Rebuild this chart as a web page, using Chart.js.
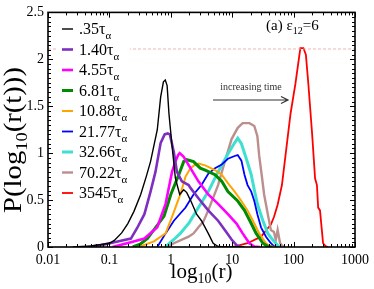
<!DOCTYPE html>
<html>
<head>
<meta charset="utf-8">
<script src="https://cdn.jsdelivr.net/npm/chart.js@4/dist/chart.umd.min.js"></script>
<style>
html, body { margin: 0; padding: 0; background: #fff; }
canvas { display: block; }
</style>
</head>
<body>
<canvas id="chart" width="374" height="289"></canvas>
<script>
// series names (time in units of tau_alpha)
var seriesLabels = ['.35', '1.40', '4.55', '6.81', '10.88', '21.77', '32.66', '70.22', '3545'];
var seriesColors = ['#000000', '#7f2fc0', '#ff00ff', '#008b00', '#ffa500', '#0000ff', '#40e0d0', '#bc8f8f', '#ff0000'];
var seriesWidths = [1.4, 2.6, 2.6, 3, 2, 1.8, 3, 2.4, 1.8];

// log10(r) positions and P values
var lx035 = [-1.6, -1.3, -1.0, -0.92, -0.8, -0.7, -0.6, -0.49, -0.4, -0.33, -0.22, -0.165, -0.12, -0.09, -0.06, -0.03, 0.02, 0.075, 0.145, 0.21, 0.26, 0.32, 0.42, 0.5, 0.61, 0.69, 0.77, 0.9, 1.2];
var p035 = [0, 0.01, 0.04, 0.07, 0.15, 0.25, 0.38, 0.56, 0.75, 0.91, 1.25, 1.6, 1.76, 1.78, 1.72, 1.42, 1.08, 0.73, 0.56, 0.61, 0.58, 0.5, 0.35, 0.28, 0.145, 0.04, 0.005, 0, 0];

var lx140 = [-1.35, -1.13, -0.92, -0.65, -0.55, -0.43, -0.33, -0.25, -0.165, -0.1, -0.05, -0.015, 0.05, 0.1, 0.18, 0.29, 0.32, 0.45, 0.61, 0.77, 0.88, 0.99, 1.07, 1.15];
var p140 = [0, 0.02, 0.05, 0.09, 0.2, 0.35, 0.59, 0.8, 1.11, 1.2, 1.21, 1.2, 1.01, 0.8, 0.7, 0.66, 0.63, 0.52, 0.39, 0.28, 0.18, 0.08, 0.02, 0];

var lx455 = [-0.95, -0.65, -0.43, -0.22, -0.085, 0.02, 0.075, 0.12, 0.145, 0.21, 0.32, 0.45, 0.61, 0.77, 0.93, 1.07, 1.17, 1.28, 1.36, 1.45];
var p455 = [0, 0.05, 0.09, 0.21, 0.46, 0.8, 0.91, 0.98, 1.0, 0.96, 0.84, 0.7, 0.56, 0.46, 0.35, 0.25, 0.145, 0.04, 0.005, 0];

var lx681 = [-0.62, -0.5, -0.38, -0.11, 0, 0.13, 0.21, 0.26, 0.37, 0.48, 0.56, 0.72, 0.83, 0.93, 1.09, 1.2, 1.31, 1.39, 1.5, 1.58, 1.65];
var p681 = [0, 0.03, 0.09, 0.33, 0.56, 0.77, 0.91, 0.93, 0.91, 0.84, 0.82, 0.77, 0.7, 0.59, 0.49, 0.39, 0.25, 0.145, 0.04, 0.005, 0];

var lx1088 = [-0.52, -0.275, -0.085, 0.02, 0.155, 0.24, 0.32, 0.38, 0.45, 0.56, 0.72, 0.83, 0.93, 1.04, 1.15, 1.25, 1.36, 1.44, 1.55, 1.63, 1.7];
var p1088 = [0, 0.06, 0.145, 0.32, 0.56, 0.75, 0.84, 0.87, 0.89, 0.87, 0.82, 0.77, 0.68, 0.59, 0.49, 0.39, 0.25, 0.145, 0.04, 0.005, 0];

var lx2177 = [-0.22, -0.085, 0.05, 0.24, 0.37, 0.5, 0.61, 0.72, 0.83, 0.93, 1.04, 1.09, 1.15, 1.2, 1.25, 1.31, 1.36, 1.41, 1.47, 1.55, 1.63, 1.68, 1.72];
var p2177 = [0, 0.145, 0.28, 0.42, 0.56, 0.66, 0.78, 0.84, 0.88, 0.94, 0.97, 0.98, 0.92, 0.77, 0.66, 0.59, 0.49, 0.35, 0.21, 0.11, 0.04, 0.01, 0];

var lx3266 = [-0.09, 0.05, 0.155, 0.3, 0.45, 0.61, 0.77, 0.93, 1.04, 1.09, 1.15, 1.23, 1.31, 1.36, 1.41, 1.5, 1.58, 1.66, 1.71, 1.75, 1.78];
var p3266 = [0, 0.08, 0.145, 0.26, 0.42, 0.59, 0.8, 0.99, 1.11, 1.16, 1.1, 0.94, 0.77, 0.61, 0.46, 0.28, 0.145, 0.076, 0.04, 0.01, 0];

var lx7022 = [-0.06, 0.05, 0.29, 0.37, 0.45, 0.53, 0.61, 0.77, 0.88, 0.99, 1.09, 1.17, 1.28, 1.36, 1.41, 1.44, 1.48, 1.52, 1.58, 1.63, 1.68, 1.71, 1.74, 1.78, 1.82, 1.86];
var p7022 = [0, 0.04, 0.11, 0.145, 0.21, 0.27, 0.39, 0.66, 0.91, 1.15, 1.27, 1.32, 1.32, 1.29, 1.18, 0.97, 0.77, 0.56, 0.35, 0.18, 0.16, 0.076, 0.18, 0.04, 0.01, 0];

var lx3545 = [1.0, 1.25, 1.47, 1.58, 1.63, 1.68, 1.74, 1.81, 1.9, 1.95, 2.03, 2.11, 2.16, 2.2, 2.24, 2.3, 2.35, 2.38, 2.4, 2.43, 2.46, 2.48, 2.52, 2.56];
var p3545 = [0, 0.04, 0.11, 0.2, 0.24, 0.32, 0.45, 0.66, 1.15, 1.42, 1.74, 2.12, 2.12, 2.05, 1.74, 1.22, 0.73, 0.66, 0.42, 0.39, 0.18, 0.04, 0.01, 0];

var seriesX = [lx035, lx140, lx455, lx681, lx1088, lx2177, lx3266, lx7022, lx3545];
var seriesY = [p035, p140, p455, p681, p1088, p2177, p3266, p7022, p3545];

// dashed reference level at the peak of the last curve
var refLevel = 2.11;

var xTickValues = [0.01, 0.1, 1, 10, 100, 1000];
var xTickLabels = ['0.01', '0.1', '1', '10', '100', '1000'];
var yTickValues = [0, 0.5, 1, 1.5, 2, 2.5];
var yTickLabels = ['0', '0.5', '1', '1.5', '2', '2.5'];

var serif = "'Liberation Serif', 'Times New Roman', serif";

function toPoints(lx, ys) {
    var pts = [];
    for (var i = 0; i < lx.length; i++) {
        pts.push({ x: Math.pow(10, lx[i]), y: ys[i] });
    }
    return pts;
}

var datasets = [];
datasets.push({
    label: 'ref',
    data: [{ x: 0.01, y: refLevel }, { x: 1000, y: refLevel }],
    borderColor: '#e9a3a3',
    borderWidth: 0.8,
    borderDash: [3, 2],
    showLine: true,
    pointRadius: 0
});
for (var s = 0; s < seriesLabels.length; s++) {
    datasets.push({
        label: seriesLabels[s],
        data: toPoints(seriesX[s], seriesY[s]),
        borderColor: seriesColors[s],
        borderWidth: seriesWidths[s],
        showLine: true,
        pointRadius: 0,
        tension: 0
    });
}

function partsWidth(ctx, parts, size, subSize) {
    var total = 0;
    for (var i = 0; i < parts.length; i++) {
        ctx.font = (parts[i][1] ? subSize : size) + 'px ' + serif;
        total += ctx.measureText(parts[i][0]).width;
    }
    return total;
}

// draw text with a subscript part; parts = [[text, isSub], ...]
function drawParts(ctx, parts, x, y, size, subSize, subShift, align) {
    var total = partsWidth(ctx, parts, size, subSize);
    var cx = x;
    if (align === 'center') cx = x - total / 2;
    ctx.textAlign = 'left';
    ctx.textBaseline = 'alphabetic';
    for (var j = 0; j < parts.length; j++) {
        ctx.font = (parts[j][1] ? subSize : size) + 'px ' + serif;
        ctx.fillText(parts[j][0], cx, parts[j][1] ? y + subShift : y);
        cx += ctx.measureText(parts[j][0]).width;
    }
}

var decorPlugin = {
    id: 'decor',
    afterDraw: function(chart) {
        var ctx = chart.ctx;
        var a = chart.chartArea;
        var xs = chart.scales.x;
        var ys = chart.scales.y;
        ctx.save();

        // legend backing hides the reference line behind the legend
        ctx.fillStyle = '#fff';
        ctx.fillRect(58, 16, 72, 188);

        ctx.strokeStyle = '#000';
        ctx.fillStyle = '#000';

        // frame
        ctx.lineWidth = 1.6;
        ctx.strokeRect(a.left, a.top, a.right - a.left, a.bottom - a.top);

        // x ticks, inside, top and bottom
        ctx.lineWidth = 1;
        ctx.beginPath();
        for (var d = -2; d < 3; d++) {
            for (var m = 1; m <= 10; m++) {
                var v = m * Math.pow(10, d);
                var px = Math.round(xs.getPixelForValue(v)) + 0.5;
                var len = (m === 1 || m === 10) ? 5 : 3;
                ctx.moveTo(px, a.bottom);
                ctx.lineTo(px, a.bottom - len);
                ctx.moveTo(px, a.top);
                ctx.lineTo(px, a.top + len);
            }
        }
        // y ticks, inside, left and right
        for (var k = 0; k <= 50; k++) {
            var yv = k * 0.05;
            var py = Math.round(ys.getPixelForValue(yv)) + 0.5;
            var ylen = (k % 10 === 0) ? 5 : 3;
            ctx.moveTo(a.left, py);
            ctx.lineTo(a.left + ylen, py);
            ctx.moveTo(a.right, py);
            ctx.lineTo(a.right - ylen, py);
        }
        ctx.stroke();

        // axis titles
        drawParts(ctx, [['log', false], ['10', true], ['(r)', false]], (a.left + a.right) / 2, 278, 21, 14, 5, 'center');
        var yParts = [['P(log', false], ['10', true], ['(r(t)))', false]];
        var yw = partsWidth(ctx, yParts, 25, 16);
        ctx.save();
        ctx.translate(21, 140);
        ctx.rotate(-Math.PI / 2);
        ctx.scale(146 / yw, 1);
        drawParts(ctx, yParts, 0, 0, 25, 16, 6, 'center');
        ctx.restore();

        // panel label
        ctx.fillStyle = '#000';
        drawParts(ctx, [['(a) \u03b5', false], ['12', true], ['=6', false]], 266, 30, 15, 10, 4, 'left');

        // arrow annotation
        ctx.fillStyle = '#333';
        drawParts(ctx, [['increasing time', false]], 251, 90, 10, 10, 0, 'center');
        ctx.strokeStyle = '#333';
        ctx.lineWidth = 1.2;
        ctx.beginPath();
        ctx.moveTo(213, 100);
        ctx.lineTo(288, 100);
        ctx.moveTo(281, 96.5);
        ctx.lineTo(288, 100);
        ctx.lineTo(281, 103.5);
        ctx.stroke();

        // legend
        ctx.fillStyle = '#000';
        for (var i = 0; i < seriesLabels.length; i++) {
            var ly = 29 + i * 20.5;
            ctx.strokeStyle = seriesColors[i];
            ctx.lineWidth = seriesWidths[i];
            ctx.beginPath();
            ctx.moveTo(62, ly);
            ctx.lineTo(73, ly);
            ctx.stroke();
            drawParts(ctx, [[seriesLabels[i] + '\u03c4', false], ['\u03b1', true]], 79, ly + 5, 16, 11, 5, 'left');
        }
        ctx.restore();
    }
};

new Chart(document.getElementById('chart'), {
    type: 'scatter',
    data: { datasets: datasets },
    options: {
        responsive: false,
        animation: false,
        devicePixelRatio: 1,
        layout: { padding: { left: 0, right: 15, top: 6, bottom: 0 } },
        plugins: {
            legend: { display: false },
            tooltip: { enabled: false }
        },
        scales: {
            x: {
                type: 'logarithmic',
                min: 0.01,
                max: 1000,
                grid: { display: false, drawTicks: false },
                border: { display: false },
                afterBuildTicks: function(scale) {
                    scale.ticks = xTickValues.map(function(v) { return { value: v }; });
                },
                afterFit: function(scale) { scale.height = 42; },
                ticks: {
                    autoSkip: false,
                    maxRotation: 0,
                    padding: 5,
                    color: '#000',
                    font: { family: serif, size: 14 },
                    callback: function(value) {
                        var idx = xTickValues.indexOf(value);
                        return idx >= 0 ? xTickLabels[idx] : '';
                    }
                }
            },
            y: {
                min: 0,
                max: 2.5,
                grid: { display: false, drawTicks: false },
                border: { display: false },
                afterBuildTicks: function(scale) {
                    scale.ticks = yTickValues.map(function(v) { return { value: v }; });
                },
                afterFit: function(scale) { scale.width = 48; },
                ticks: {
                    padding: 4,
                    color: '#000',
                    font: { family: serif, size: 14 },
                    callback: function(value) {
                        var idx = yTickValues.indexOf(value);
                        return idx >= 0 ? yTickLabels[idx] : '';
                    }
                }
            }
        }
    },
    plugins: [decorPlugin]
});
</script>
</body>
</html>
